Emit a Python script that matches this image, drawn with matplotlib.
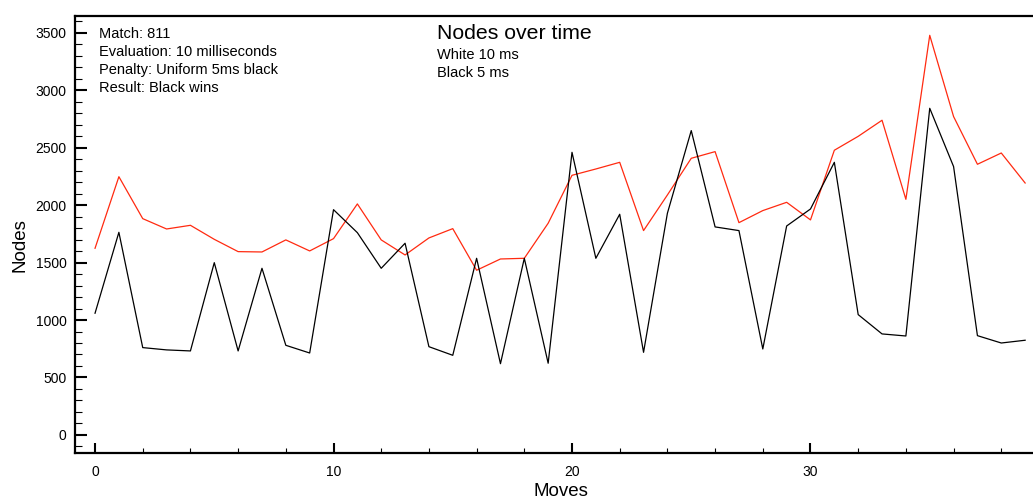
import numpy as np
import matplotlib
matplotlib.use('Agg')
import matplotlib.pyplot as plt
from matplotlib.ticker import MultipleLocator

plt.rcParams['font.family'] = ['Liberation Sans', 'DejaVu Sans']

# nodes searched per move
moves = np.arange(40)
white_nodes = [1624, 2247, 1882, 1792, 1824, 1702, 1595, 1592, 1697, 1601,
               1708, 2010, 1697, 1566, 1714, 1795, 1433, 1531, 1537, 1842,
               2259, 2314, 2372, 1778, 2088, 2407, 2465, 1847, 1952, 2024,
               1871, 2477, 2598, 2738, 2050, 3477, 2770, 2355, 2453, 2192]
black_nodes = [1059, 1763, 760, 740, 731, 1499, 731, 1450, 780, 713,
               1960, 1760, 1450, 1668, 768, 693, 1537, 620, 1537, 624,
               2459, 1537, 1920, 719, 1929, 2648, 1810, 1778, 748, 1818,
               1966, 2372, 1047, 879, 861, 2842, 2335, 864, 800, 824]

info_lines = ['Match: 811', 'Evaluation: 10 milliseconds',
              'Penalty: Uniform 5ms black', 'Result: Black wins']
sub_lines = ['White 10 ms', 'Black 5 ms']

fig = plt.figure(figsize=(10.33, 5.0), dpi=100)
ax = fig.add_axes([75/1033, 47/500, 958/1033, 437/500])

ax.plot(moves, white_nodes, color='#ff2a10', lw=0.9)
ax.plot(moves, black_nodes, color='black', lw=0.9)

ax.set_xlim(-0.84, 39.33)
ax.set_ylim(-157, 3645)

ax.xaxis.set_major_locator(MultipleLocator(10))
ax.xaxis.set_minor_locator(MultipleLocator(2))
ax.yaxis.set_major_locator(MultipleLocator(500))
ax.yaxis.set_minor_locator(MultipleLocator(100))

ax.tick_params(axis='y', which='major', direction='in', length=8.5, width=1.5,
               labelsize=10, pad=6)
ax.tick_params(axis='y', which='minor', direction='in', length=5, width=0.8)
ax.tick_params(axis='x', which='major', direction='in', length=7, width=1.5,
               labelsize=10, pad=9)
ax.tick_params(axis='x', which='minor', direction='in', length=3.6, width=0.8)

for s in ['left', 'bottom', 'top']:
    ax.spines[s].set_linewidth(1.6)
ax.spines['right'].set_visible(False)

ax.set_xlabel('Moves', fontsize=13.5, va='center')
ax.set_ylabel('Nodes', fontsize=13.5, va='center')
ax.xaxis.set_label_coords((561 - 75)/958, -(491 - 453)/437)
ax.yaxis.set_label_coords(-(75 - 20)/958, (453 - 245)/437)

for k, line in enumerate(info_lines):
    fig.text(99/1033, 1 - (34 + 18*k)/500, line, fontsize=10.5, va='center')

fig.text(437/1033, 1 - 33/500, 'Nodes over time', fontsize=15.3, va='center')
for k, line in enumerate(sub_lines):
    fig.text(437/1033, 1 - (55 + 18*k)/500, line, fontsize=10.5, va='center')

fig.savefig('out.png', dpi=100)
